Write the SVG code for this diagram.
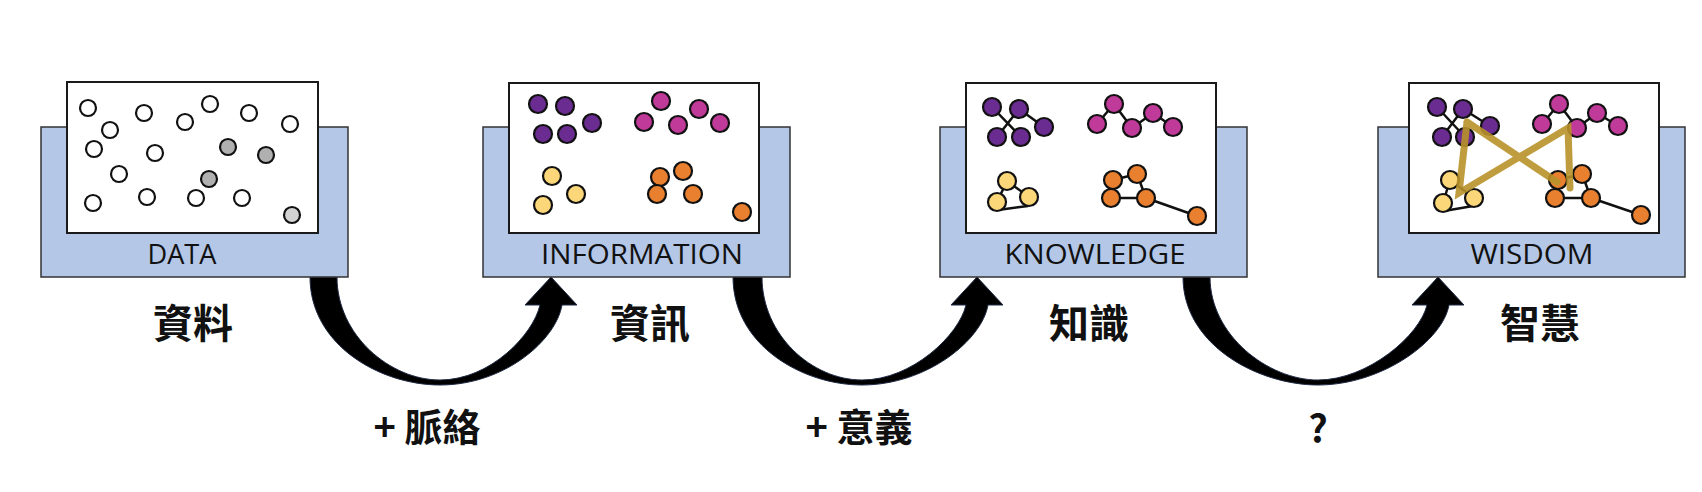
<svg xmlns="http://www.w3.org/2000/svg" width="1702" height="492" viewBox="0 0 1702 492">
<style>
.blue{fill:#b4c7e7;stroke:#333;stroke-width:1.5}
.wb{fill:#fff;stroke:#1a1a1a;stroke-width:2}
.lbl{font-family:"Open Sans","Liberation Sans",sans-serif;font-size:28px;fill:#111;text-anchor:middle}
.cn{font-family:"Noto Sans CJK TC","Noto Sans CJK SC",sans-serif;font-weight:bold;font-size:40px;fill:#111;text-anchor:middle}
.op{font-family:"Noto Sans CJK TC","Liberation Sans",sans-serif;font-weight:bold;font-size:38px;fill:#111;text-anchor:middle}
circle{stroke:#111;stroke-width:2.2}
.e{fill:#fff}.g{fill:#b0b0b0}.g2{fill:#d2d2d2}
.p{fill:#6a2c91}.m{fill:#c03a9a}.y{fill:#fbd77a}.o{fill:#e8802f}
.ln{stroke:#111;stroke-width:2.5;fill:none}
.gold{stroke:#b8922a;stroke-width:7;stroke-linecap:round;fill:none;opacity:0.9}
.arr{fill:#000;stroke:#1f2a44;stroke-width:1}
</style>
<g id="connectors">
<path class="arr" d="M310,277 C310,345 380,385 440,385 C505,385 556,340 562,305 L577,305 L551,277 L525,305 L540,305 C533,335 490,380 440,380 C390,380 337,335 337,277 Z"/>
<path class="arr" d="M733,277 C733,345 802,385 862,385 C927,385 982,340 988,305 L1003,305 L977,277 L951,305 L966,305 C959,335 912,380 862,380 C812,380 762,335 762,277 Z"/>
<path class="arr" d="M1183,277 C1183,345 1258,385 1318,385 C1383,385 1443,340 1449,305 L1464,305 L1438,277 L1412,305 L1427,305 C1420,335 1368,380 1318,380 C1268,380 1210,335 1210,277 Z"/>
</g>
<g id="data">
<rect class="blue" x="41" y="127" width="307" height="150"/>
<rect class="wb" x="67" y="82" width="251" height="151"/>
<g>
<circle class="e" cx="88" cy="108" r="8"/><circle class="e" cx="110" cy="130" r="8"/><circle class="e" cx="94" cy="149" r="8"/>
<circle class="e" cx="144" cy="113" r="8"/><circle class="e" cx="185" cy="122" r="8"/><circle class="e" cx="210" cy="104" r="8"/>
<circle class="e" cx="249" cy="113" r="8"/><circle class="e" cx="290" cy="124" r="8"/><circle class="e" cx="155" cy="153" r="8"/>
<circle class="g" cx="228" cy="147" r="8"/><circle class="g" cx="266" cy="155" r="8"/><circle class="e" cx="119" cy="174" r="8"/>
<circle class="g" cx="209" cy="179" r="8"/><circle class="e" cx="93" cy="203" r="8"/><circle class="e" cx="147" cy="197" r="8"/>
<circle class="e" cx="196" cy="198" r="8"/><circle class="e" cx="242" cy="198" r="8"/><circle class="g2" cx="292" cy="215" r="8"/>
</g>
<text class="lbl" x="182" y="264" textLength="69" lengthAdjust="spacingAndGlyphs">DATA</text>
<text class="cn" x="193" y="338">資料</text>
</g>
<g id="information">
<rect class="blue" x="483" y="127" width="307" height="150"/>
<rect class="wb" x="509" y="83" width="250" height="150"/>
<circle class="p" cx="538" cy="104" r="9"/><circle class="p" cx="565" cy="106" r="9"/><circle class="p" cx="592" cy="123" r="9"/><circle class="p" cx="543" cy="134" r="9"/><circle class="p" cx="567" cy="134" r="9"/>
<circle class="m" cx="661" cy="101" r="9"/><circle class="m" cx="644" cy="122" r="9"/><circle class="m" cx="678" cy="125" r="9"/><circle class="m" cx="699" cy="109" r="9"/><circle class="m" cx="720" cy="123" r="9"/>
<circle class="y" cx="552" cy="176" r="9"/><circle class="y" cx="576" cy="194" r="9"/><circle class="y" cx="543" cy="205" r="9"/>
<circle class="o" cx="660" cy="177" r="9"/><circle class="o" cx="683" cy="171" r="9"/><circle class="o" cx="657" cy="194" r="9"/><circle class="o" cx="693" cy="194" r="9"/><circle class="o" cx="742" cy="212" r="9"/>
<text class="lbl" x="642" y="264" textLength="202" lengthAdjust="spacingAndGlyphs">INFORMATION</text>
<text class="cn" x="650" y="338">資訊</text>
</g>
<g id="knowledge">
<rect class="blue" x="940" y="127" width="307" height="150"/>
<rect class="wb" x="966" y="83" width="250" height="150"/>
<path class="ln" d="M992,107 L1021,137 M1019,109 L997,137 M1019,109 L1044,127 M1097,124 L1114,104 L1132,128 L1153,113 L1173,127 M1007,181 L1029,197 M1007,181 L997,202 M998,210 L1028,206 M1113,180 L1137,174 L1146,198 L1111,198 M1146,198 L1197,216"/>
<circle class="p" cx="992" cy="107" r="9"/><circle class="p" cx="1019" cy="109" r="9"/><circle class="p" cx="1044" cy="127" r="9"/><circle class="p" cx="997" cy="137" r="9"/><circle class="p" cx="1021" cy="137" r="9"/>
<circle class="m" cx="1114" cy="104" r="9"/><circle class="m" cx="1097" cy="124" r="9"/><circle class="m" cx="1132" cy="128" r="9"/><circle class="m" cx="1153" cy="113" r="9"/><circle class="m" cx="1173" cy="127" r="9"/>
<circle class="y" cx="1007" cy="181" r="9"/><circle class="y" cx="1029" cy="197" r="9"/><circle class="y" cx="997" cy="202" r="9"/>
<circle class="o" cx="1113" cy="180" r="9"/><circle class="o" cx="1137" cy="174" r="9"/><circle class="o" cx="1111" cy="198" r="9"/><circle class="o" cx="1146" cy="198" r="9"/><circle class="o" cx="1197" cy="216" r="9"/>
<text class="lbl" x="1095" y="264" textLength="181" lengthAdjust="spacingAndGlyphs">KNOWLEDGE</text>
<text class="cn" x="1089" y="338">知識</text>
</g>
<g id="wisdom">
<rect class="blue" x="1378" y="127" width="307" height="150"/>
<rect class="wb" x="1409" y="83" width="250" height="150"/>
<path class="ln" d="M1437,107 L1465,137 M1463,109 L1442,137 M1463,109 L1490,126 M1542,124 L1559,104 L1577,128 L1597,113 L1618,126 M1450,180 L1474,198 M1450,180 L1443,203 M1444,211 L1473,206 M1558,180 L1582,174 L1591,198 L1555,198 M1591,198 L1641,215"/>
<circle class="p" cx="1437" cy="107" r="9"/><circle class="p" cx="1463" cy="109" r="9"/><circle class="p" cx="1490" cy="126" r="9"/><circle class="p" cx="1442" cy="137" r="9"/><circle class="p" cx="1465" cy="137" r="9"/>
<circle class="m" cx="1559" cy="104" r="9"/><circle class="m" cx="1542" cy="124" r="9"/><circle class="m" cx="1577" cy="128" r="9"/><circle class="m" cx="1597" cy="113" r="9"/><circle class="m" cx="1618" cy="126" r="9"/>
<circle class="y" cx="1450" cy="180" r="9"/><circle class="y" cx="1474" cy="198" r="9"/><circle class="y" cx="1443" cy="203" r="9"/>
<circle class="o" cx="1558" cy="180" r="9"/><circle class="o" cx="1582" cy="174" r="9"/><circle class="o" cx="1555" cy="198" r="9"/><circle class="o" cx="1591" cy="198" r="9"/><circle class="o" cx="1641" cy="215" r="9"/>
<path class="gold" d="M1467,122 L1459,193 L1568,128 L1570,188 M1467,122 L1557,182"/>
<text class="lbl" x="1532" y="264" textLength="123" lengthAdjust="spacingAndGlyphs">WISDOM</text>
<text class="cn" x="1540" y="338">智慧</text>
</g>
<g id="labels">
<text class="op" x="427" y="441">+ 脈絡</text>
<text class="op" x="859" y="441">+ 意義</text>
<text class="op" x="1318" y="443" font-size="42">?</text>
</g>
</svg>
